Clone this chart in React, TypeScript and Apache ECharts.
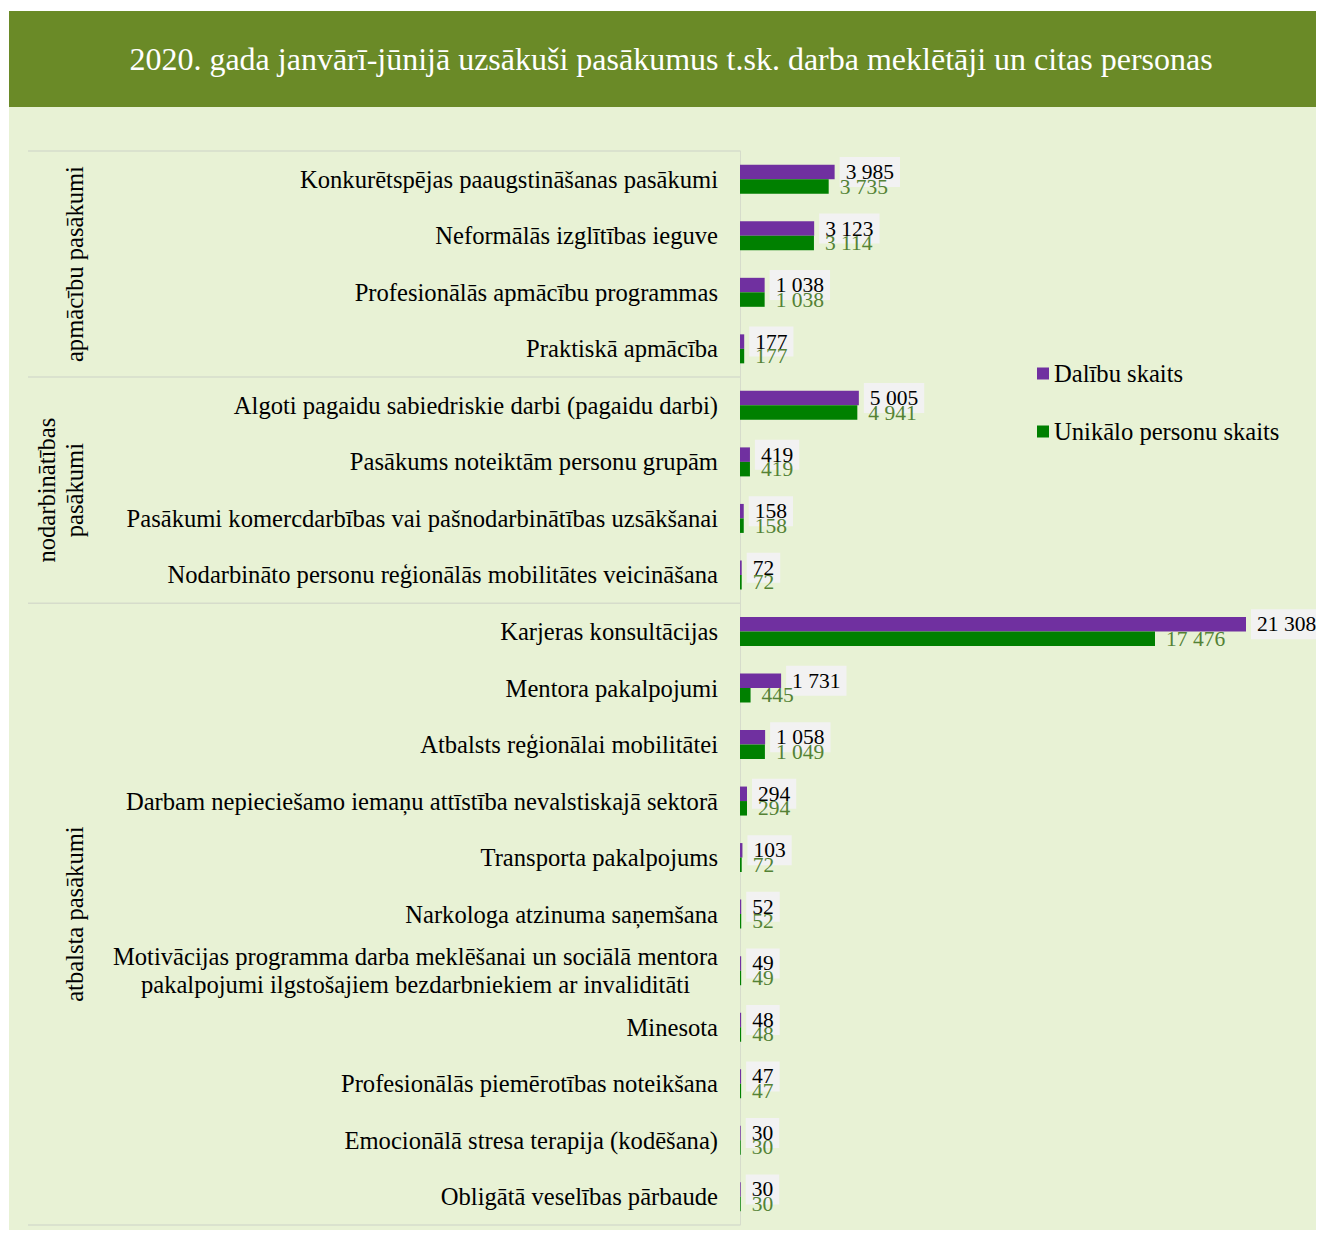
import React, { useEffect, useRef } from "react";
import * as echarts from "echarts";

const TITLE = "2020. gada janvārī-jūnijā uzsākuši pasākumus t.sk. darba meklētāji un citas personas";

const categories = [
  "Konkurētspējas paaugstināšanas pasākumi",
  "Neformālās izglītības ieguve",
  "Profesionālās apmācību programmas",
  "Praktiskā apmācība",
  "Algoti pagaidu sabiedriskie darbi (pagaidu darbi)",
  "Pasākums noteiktām personu grupām",
  "Pasākumi komercdarbības vai pašnodarbinātības uzsākšanai",
  "Nodarbināto personu reģionālās mobilitātes veicināšana",
  "Karjeras konsultācijas",
  "Mentora pakalpojumi",
  "Atbalsts reģionālai mobilitātei",
  "Darbam nepieciešamo iemaņu attīstība nevalstiskajā sektorā",
  "Transporta pakalpojums",
  "Narkologa atzinuma saņemšana",
  "Motivācijas programma darba meklēšanai un sociālā mentora\npakalpojumi ilgstošajiem bezdarbniekiem ar invaliditāti",
  "Minesota",
  "Profesionālās piemērotības noteikšana",
  "Emocionālā stresa terapija (kodēšana)",
  "Obligātā veselības pārbaude",
];

const participations = [3985, 3123, 1038, 177, 5005, 419, 158, 72, 21308, 1731, 1058, 294, 103, 52, 49, 48, 47, 30, 30];
const uniquePersons = [3735, 3114, 1038, 177, 4941, 419, 158, 72, 17476, 445, 1049, 294, 72, 52, 49, 48, 47, 30, 30];

const seriesNames = ["Dalību skaits", "Unikālo personu skaits"];

const groups = [
  { name: "apmācību pasākumi", start: 0, end: 3 },
  { name: "nodarbinātības\npasākumi", start: 4, end: 7 },
  { name: "atbalsta pasākumi", start: 8, end: 18 },
];

const FONT = "'Liberation Serif', 'Times New Roman', serif";
const PURPLE = "#7030A0";
const GREEN = "#008000";
const GREEN_TEXT = "#548235";
const TITLE_BG = "#6A8A27";
const BG = "#E8F2D5";
const LINE = "#D6DCCB";
const CAT_SIZE = 24.6;
const LABEL_SIZE = 21.5;

const fmt = (v: number) => String(v).replace(/\B(?=(\d{3})+(?!\d))/g, " ");

export default function App() {
  const ref = useRef<HTMLDivElement>(null);
  useEffect(() => {
    if (!ref.current) return;
    document.documentElement.style.overflow = "hidden";
    document.body.style.overflow = "hidden";
    const chart = echarts.init(ref.current, undefined, { renderer: "svg" });
    const W = 1324;
    const H = 1238;
    const gridLeft = 740;
    const gridTop = 151;
    const gridBottom = 13;
    chart.setOption({
      animation: false,
      backgroundColor: "#ffffff",
      textStyle: { fontFamily: FONT },
      grid: { left: gridLeft, right: 78, top: gridTop, bottom: gridBottom, containLabel: false },
      legend: {
        orient: "vertical",
        left: 1032,
        top: 356,
        itemWidth: 12,
        itemHeight: 12,
        itemGap: 33,
        icon: "rect",
        textStyle: { fontFamily: FONT, fontSize: CAT_SIZE, color: "#000" },
        data: seriesNames,
      },
      xAxis: {
        type: "value",
        min: 0,
        max: 21308,
        show: false,
        splitLine: { show: false },
      },
      yAxis: {
        type: "category",
        inverse: true,
        data: categories,
        axisLine: { show: true, lineStyle: { color: LINE, width: 1 } },
        axisTick: { show: false },
        axisLabel: {
          margin: 22,
          color: "#000",
          fontFamily: FONT,
          fontSize: CAT_SIZE,
          formatter: (v: string) => {
            if (v.indexOf("\n") >= 0) {
              return v.split("\n").map((l) => `{c|${l}}`).join("\n");
            }
            return v;
          },
          rich: {
            c: { align: "center", fontFamily: FONT, fontSize: CAT_SIZE, color: "#000", lineHeight: 28 },
          },
        },
      },
      series: [
        {
          name: seriesNames[0],
          type: "bar",
          data: participations,
          barWidth: 14.5,
          barGap: "0%",
          itemStyle: { color: PURPLE },
          label: {
            show: true,
            position: "right",
            distance: 5,
            formatter: (p: any) => fmt(p.value),
            color: "#000",
            fontFamily: FONT,
            fontSize: LABEL_SIZE,
            backgroundColor: "#F2F2F2",
            padding: [4, 6, 4, 6],
          },
        },
        {
          name: seriesNames[1],
          type: "bar",
          data: uniquePersons,
          barWidth: 14.5,
          barGap: "0%",
          itemStyle: { color: GREEN },
          label: {
            show: true,
            position: "right",
            distance: 11,
            formatter: (p: any) => fmt(p.value),
            color: GREEN_TEXT,
            fontFamily: FONT,
            fontSize: LABEL_SIZE,
          },
        },
      ],
    });

    const centers = categories.map((_, i) => chart.convertToPixel({ yAxisIndex: 0 }, i) as number);
    const band = centers.length > 1 ? centers[1] - centers[0] : 56;
    const graphics: any[] = [
      { type: "rect", z: -10, silent: true, shape: { x: 9, y: 11, width: W - 9, height: 96 }, style: { fill: TITLE_BG } },
      { type: "rect", z: -10, silent: true, shape: { x: 9, y: 107, width: W - 9, height: H - 109 }, style: { fill: BG } },
      {
        type: "text",
        x: 671,
        y: 59,
        style: { text: TITLE, fill: "#fff", font: `32px ${FONT}`, align: "center", verticalAlign: "middle" },
      },
    ];
    groups.forEach((g) => {
      const top = centers[g.start] - band / 2;
      const bottom = centers[g.end] + band / 2;
      graphics.push({
        type: "line",
        silent: true,
        shape: { x1: 28, y1: top, x2: gridLeft, y2: top },
        style: { stroke: LINE, lineWidth: 1.5 },
      });
      graphics.push({
        type: "text",
        x: 88,
        y: (top + bottom) / 2,
        rotation: Math.PI / 2,
        style: {
          text: g.name,
          fill: "#000",
          font: `${CAT_SIZE}px ${FONT}`,
          align: "center",
          verticalAlign: "bottom",
          lineHeight: 28,
        },
      });
    });
    const last = groups[groups.length - 1];
    const lastBottom = centers[last.end] + band / 2;
    graphics.push({
      type: "line",
      silent: true,
      shape: { x1: 28, y1: lastBottom, x2: gridLeft, y2: lastBottom },
      style: { stroke: LINE, lineWidth: 1.5 },
    });
    chart.setOption({ graphic: graphics });

    return () => chart.dispose();
  }, []);
  return <div ref={ref} style={{ width: 1324, height: 1238, marginLeft: -8, marginTop: -8, marginBottom: -8 }} />;
}
